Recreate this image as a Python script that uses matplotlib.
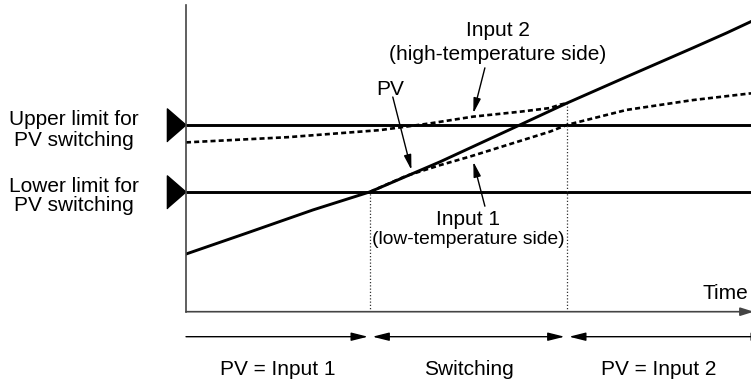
import matplotlib
matplotlib.use("Agg")
import matplotlib.pyplot as plt

plt.rcParams['font.family'] = ['Liberation Sans', 'DejaVu Sans']

# curves (time units 0..10, value units 0..100)
pv_time = [0, 1.07, 2.25, 3.26, 4.50, 5.91, 6.74, 7.80, 8.97, 9.57, 10.0]
pv_value = [18.8, 25.6, 33.2, 39.1, 48.9, 60.9, 68.0, 76.6, 86.0, 90.9, 94.6]

input1_time = [3.26, 3.9, 4.50, 5.03, 6.44, 6.74, 7.80, 8.97, 10.0]
input1_value = [39.1, 44.3, 47.8, 50.6, 58.7, 60.9, 65.8, 69.0, 71.2]

input2_time = [0, 1.8, 3.43, 4.32, 5.08, 5.91, 6.44, 6.62, 6.74]
input2_value = [55.2, 56.9, 59.2, 61.4, 63.6, 65.2, 66.4, 67.5, 68.0]

upper_limit = 61
lower_limit = 39
switch_start = 3.26
switch_end = 6.74

limit_labels = ['Upper limit for\nPV switching', 'Lower limit for\nPV switching']
phase_labels = ['PV = Input 1', 'Switching', 'PV = Input 2']

W, H = 751, 383
fig = plt.figure(figsize=(W / 100, H / 100), dpi=100)
ax = fig.add_axes([186 / W, (H - 311.7) / H, 1 - 186 / W, (311.7 - 5) / H])
ax.set_xlim(0, 10)
ax.set_ylim(0, 100)
ax.set_xticks([])
ax.set_yticks([])
for s in ['top', 'right', 'bottom']:
    ax.spines[s].set_visible(False)
ax.spines['left'].set_color('#444444')
ax.spines['left'].set_linewidth(1.2)
ax.patch.set_alpha(0)

fs = 15
dash = (0, (1.9, 1.2))

# time axis with arrow
ax.annotate('', xy=(10.05, 0), xytext=(0, 0), annotation_clip=False,
            arrowprops=dict(arrowstyle='-|>,head_length=0.8,head_width=0.25',
                            color='#444444', lw=1.2, mutation_scale=10,
                            shrinkA=0, shrinkB=0))
ax.text(9.95, 5.8, 'Time', fontsize=fs, ha='right', va='center')

# limit lines + triangle markers
tri = [(0, 0), (-19, 16.5), (-19, -16.5)]
label_offsets = [-1.7, -1.2]
label_spacing = [1.15, 1.0]
for lim, lab, off, sp in zip([upper_limit, lower_limit], limit_labels,
                             label_offsets, label_spacing):
    ax.plot([0, 10], [lim, lim], color='black', lw=2.1, solid_capstyle='butt')
    ax.plot([0], [lim], marker=tri, ms=27.5, color='black', clip_on=False)
    ax.text(-1.98, lim + off, lab, fontsize=fs, ha='center', va='center',
            linespacing=sp)

# switching boundaries
ax.plot([switch_start, switch_start], [0, lower_limit], color='#333333',
        lw=0.9, linestyle=(0, (1, 1.6)))
ax.plot([switch_end, switch_end], [0, pv_value[6]], color='#333333',
        lw=0.9, linestyle=(0, (1, 1.6)))

# inputs and PV
ax.plot(input1_time, input1_value, color='black', lw=1.9, linestyle=dash)
ax.plot(input2_time, input2_value, color='black', lw=1.9, linestyle=dash)
ax.plot(pv_time, pv_value, color='black', lw=2.1, solid_joinstyle='round')

arrow = dict(arrowstyle='-|>,head_length=0.9,head_width=0.22', color='black',
             lw=1.0, mutation_scale=10, shrinkA=0, shrinkB=0)

ax.text(3.61, 72.3, 'PV', fontsize=fs, ha='center', va='center')
ax.annotate('', xy=(3.99, 46.2), xytext=(3.66, 70.0), arrowprops=arrow)

ax.text(5.52, 91.7, 'Input 2', fontsize=fs, ha='center', va='center')
ax.text(5.52, 84.0, '(high-temperature side)', fontsize=fs, ha='center', va='center')
ax.annotate('', xy=(5.085, 64.7), xytext=(5.29, 79.5), arrowprops=arrow)

ax.text(4.99, 30.2, 'Input 1', fontsize=fs, ha='center', va='center')
ax.text(4.99, 23.4, '(low-temperature side)', fontsize=13.9, ha='center', va='center')
ax.annotate('', xy=(5.085, 48.9), xytext=(5.29, 34.4), arrowprops=arrow)

# phase arrows along the bottom
yb = -8.15
ax.annotate('', xy=(switch_start - 0.04, yb), xytext=(0, yb), annotation_clip=False,
            arrowprops=dict(arrow, arrowstyle='-|>,head_length=1.0,head_width=0.25'))
ax.annotate('', xy=(switch_end - 0.04, yb), xytext=(switch_start + 0.04, yb),
            annotation_clip=False,
            arrowprops=dict(arrow, arrowstyle='<|-|>,head_length=1.0,head_width=0.25'))
ax.annotate('', xy=(10.3, yb), xytext=(switch_end + 0.04, yb), annotation_clip=False,
            arrowprops=dict(arrow, arrowstyle='<|-|>,head_length=1.0,head_width=0.25'))

centers = [switch_start / 2, (switch_start + switch_end) / 2, (switch_end + 10) / 2]
for c, lab in zip(centers, phase_labels):
    ax.text(c, -18.7, lab, fontsize=fs, ha='center', va='center')

fig.savefig('out.png', dpi=100)
